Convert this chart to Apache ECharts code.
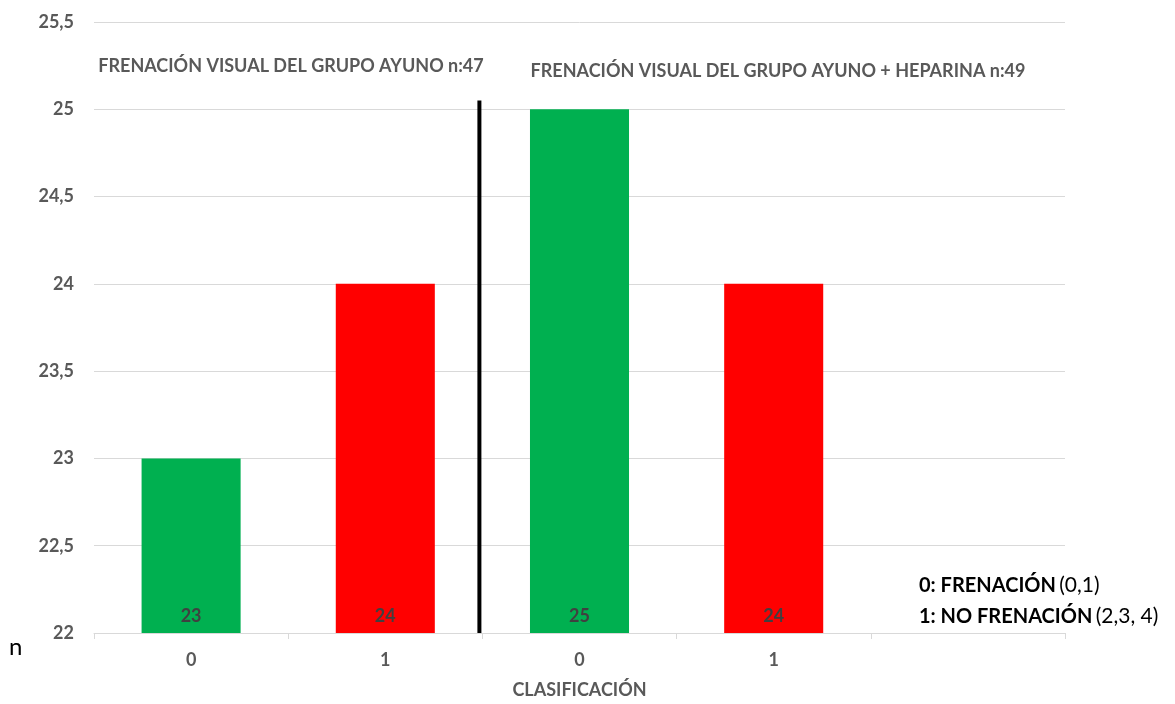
<!DOCTYPE html>
<html>
<head>
<meta charset="utf-8">
<script src="https://cdn.jsdelivr.net/npm/echarts@6/dist/echarts.min.js"></script>
<style>
  html, body { margin: 0; padding: 0; background: #ffffff; overflow: hidden; }
  #chart { width: 1175px; height: 704px; }
</style>
</head>
<body>
<div id="chart"></div>
<script>
// Classification categories (0 = frenación, 1 = no frenación) for both groups, plus an empty slot
const categories = ['0', '1', '0', '1', ''];
// Patient counts per classification
const counts = [23, 24, 25, 24, null];
const barColors = ['#00B050', '#FF0000', '#00B050', '#FF0000', '#00B050'];
// Value axis range
const yMin = 22;
const yMax = 25.5;
const yStep = 0.5;
// Group headings
const groupTitles = [
  'FRENACIÓN VISUAL DEL GRUPO AYUNO n:47',
  'FRENACIÓN VISUAL DEL GRUPO AYUNO + HEPARINA n:49'
];
// Separator between groups: sits between category 1 and 2, from the axis up to this value
const separatorTop = 25.05;

const FONT = 'Lato, "Open Sans", sans-serif';
const chart = echarts.init(document.getElementById('chart'));

const option = {
  animation: false,
  backgroundColor: '#ffffff',
  textStyle: { fontFamily: FONT },
  grid: { left: 94, right: 110, top: 22, bottom: 61, containLabel: false },
  xAxis: {
    type: 'category',
    data: categories,
    name: 'CLASIFICACIÓN',
    nameLocation: 'middle',
    nameGap: 48,
    nameTextStyle: { fontFamily: FONT, fontSize: 18, fontWeight: 'bold', color: '#595959' },
    axisLine: { show: true, lineStyle: { color: '#D9D9D9', width: 1 } },
    axisTick: { show: true, alignWithLabel: false, length: 6, lineStyle: { color: '#D9D9D9' } },
    axisLabel: { fontFamily: FONT, fontSize: 18, fontWeight: 'bold', color: '#595959', margin: 18 },
    splitLine: { show: false }
  },
  yAxis: {
    type: 'value',
    min: yMin,
    max: yMax,
    interval: yStep,
    axisLine: { show: false },
    axisTick: { show: false },
    axisLabel: {
      fontFamily: FONT, fontSize: 18, fontWeight: 'bold', color: '#595959', margin: 20,
      formatter: v => String(v).replace('.', ',')
    },
    splitLine: { lineStyle: { color: '#D9D9D9', width: 1 } }
  },
  title: [
    {
      text: groupTitles[0], left: 286, top: 52, textAlign: 'center',
      textStyle: { fontFamily: FONT, fontSize: 18, fontWeight: 'bold', color: '#595959' }
    },
    {
      text: groupTitles[1], left: 773, top: 57, textAlign: 'center',
      textStyle: { fontFamily: FONT, fontSize: 18, fontWeight: 'bold', color: '#595959' }
    }
  ],
  graphic: [
    {
      type: 'text', left: 9, top: 635,
      style: { text: 'n', font: '24px ' + FONT, fill: '#000000' }
    },
    {
      type: 'text', left: 919, top: 575,
      style: {
        text: '{b|0: FRENACIÓN} {r|(0,1)}\n{b|1: NO FRENACIÓN} {r|(2,3, 4)}',
        rich: {
          b: { fontFamily: FONT, fontSize: 20, fontWeight: 'bold', fill: '#000000', lineHeight: 31 },
          r: { fontFamily: FONT, fontSize: 21, fill: '#000000', lineHeight: 31 }
        }
      }
    }
  ],
  series: [
    {
      type: 'bar',
      data: counts.map((v, i) => ({ value: v, itemStyle: { color: barColors[i] } })),
      barWidth: '51%',
      label: {
        show: true,
        position: 'insideBottom',
        distance: 8,
        fontFamily: FONT,
        fontSize: 18,
        fontWeight: 'bold',
        color: '#404040',
        formatter: p => p.value
      }
    }
  ]
};

chart.setOption(option);

// Vertical separator between the two groups, placed through the chart's own scales
const leftCenter = chart.convertToPixel({ xAxisIndex: 0 }, 1);
const rightCenter = chart.convertToPixel({ xAxisIndex: 0 }, 2);
const sepX = (leftCenter + rightCenter) / 2 - 3;
const sepY1 = chart.convertToPixel({ yAxisIndex: 0 }, separatorTop);
const sepY2 = chart.convertToPixel({ yAxisIndex: 0 }, yMin);
chart.setOption({
  graphic: [
    option.graphic[0],
    option.graphic[1],
    {
      type: 'line', z: 10,
      shape: { x1: sepX, y1: sepY1, x2: sepX, y2: sepY2 },
      style: { stroke: '#000000', lineWidth: 4 }
    }
  ]
});
</script>
</body>
</html>
